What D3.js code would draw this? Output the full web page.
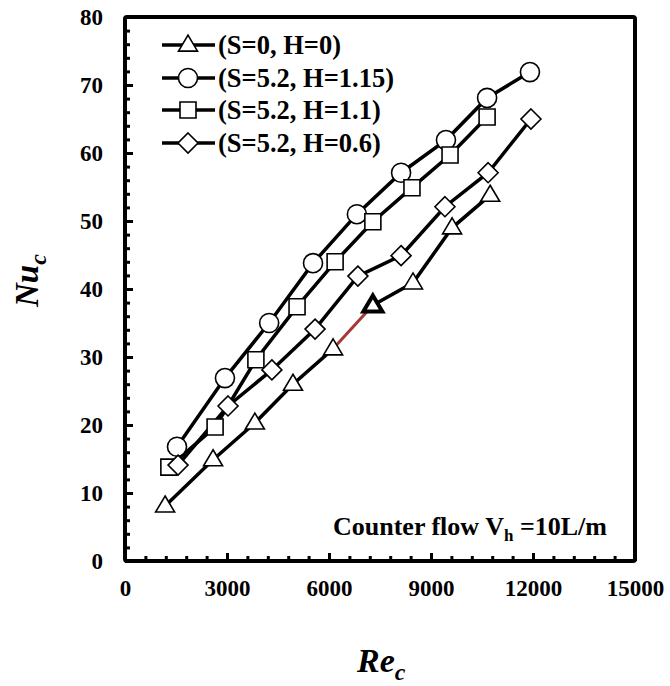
<!DOCTYPE html>
<html><head><meta charset="utf-8">
<script src="https://cdn.jsdelivr.net/npm/d3@7"></script>
<style>body{margin:0;background:#fff} text{font-family:"Liberation Serif","Times New Roman",serif;font-weight:bold}</style>
</head><body><svg id="c" width="670" height="686"></svg>
<script>
const xTicks=[0,3000,6000,9000,12000,15000];
const yTicks=[0,10,20,30,40,50,60,70,80];
const seriesNames=["(S=0, H=0)","(S=5.2, H=1.15)","(S=5.2, H=1.1)","(S=5.2, H=0.6)"];
const seriesShapes=["triangle","circle","square","diamond"];
const reS0H0=[1180,2590,3820,4940,6120,7290,8470,9620,10740];
const nuS0H0=[8.1,14.9,20.3,26.0,31.2,37.6,40.9,49.0,53.8];
const reH115=[1530,2940,4240,5530,6820,8120,9440,10650,11910];
const nuH115=[16.8,26.9,35.0,43.8,51.0,57.1,61.9,68.1,71.9];
const reH11=[1290,2650,3850,5060,6180,7290,8440,9560,10650];
const nuH11=[13.8,19.7,29.6,37.4,44.0,49.9,54.9,59.7,65.3];
const reH06=[1560,3030,4320,5590,6850,8120,9410,10680,11940];
const nuH06=[14.1,22.8,28.1,34.1,41.9,44.9,52.1,57.1,65.0];
const highlightIndex=5; // highlighted point in S=0,H=0 series (segment before it drawn in red)

const svg=d3.select("#c");
const x=d3.scaleLinear().domain([0,15000]).range([125,635]);
const y=d3.scaleLinear().domain([0,80]).range([561,17]);

// minor ticks
const xMinor=d3.range(0,15001,600).filter(v=>v%3000!==0);
const yMinor=d3.range(0,81,2).filter(v=>v%10!==0);
svg.append("g").attr("transform","translate(0,561)")
  .call(d3.axisBottom(x).tickValues(xMinor).tickSize(-5).tickFormat(""))
  .call(g=>{g.select(".domain").remove();g.selectAll("line").attr("stroke","#000").attr("stroke-width",3);});
svg.append("g").attr("transform","translate(125,0)")
  .call(d3.axisLeft(y).tickValues(yMinor).tickSize(-5).tickFormat(""))
  .call(g=>{g.select(".domain").remove();g.selectAll("line").attr("stroke","#000").attr("stroke-width",3);});
// major ticks
svg.append("g").attr("transform","translate(0,561)")
  .call(d3.axisBottom(x).tickValues(xTicks).tickSize(-8).tickPadding(19).tickFormat(d3.format("d")))
  .call(g=>{g.select(".domain").remove();g.selectAll("line").attr("stroke","#000").attr("stroke-width",3);
    g.selectAll("text").attr("font-size",23).attr("fill","#000").attr("font-family","Liberation Serif").attr("font-weight","bold");});
svg.append("g").attr("transform","translate(125,0)")
  .call(d3.axisLeft(y).tickValues(yTicks).tickSize(-8).tickPadding(22))
  .call(g=>{g.select(".domain").remove();g.selectAll("line").attr("stroke","#000").attr("stroke-width",3);
    g.selectAll("text").attr("font-size",23).attr("fill","#000").attr("font-family","Liberation Serif").attr("font-weight","bold");});

// frame
svg.append("rect").attr("x",x(0)).attr("y",y(80)).attr("width",x(15000)-x(0)).attr("height",y(0)-y(80))
  .attr("fill","none").attr("stroke","#000").attr("stroke-width",4).attr("rx",2);

function shapePath(s){
  if(s==="triangle"){const h=16,w=19;return `M0,${-h*0.62}L${w/2},${h*0.38}L${-w/2},${h*0.38}Z`;}
  if(s==="circle"){return d3.symbol(d3.symbolCircle,285)();}
  if(s==="square"){const a=8;return `M${-a},${-a}H${a}V${a}H${-a}Z`;}
  if(s==="diamond"){const a=10;return `M0,${-a}L${a},0L0,${a}L${-a},0Z`;}
}

const series=[
  {xs:reS0H0,ys:nuS0H0,shape:"triangle"},
  {xs:reH115,ys:nuH115,shape:"circle"},
  {xs:reH11,ys:nuH11,shape:"square"},
  {xs:reH06,ys:nuH06,shape:"diamond"}
];
const line=d3.line().x(d=>x(d[0])).y(d=>y(d[1]));
series.forEach((s,si)=>{
  const pts=s.xs.map((v,i)=>[v,s.ys[i]]);
  if(si===0){
    svg.append("path").attr("d",line(pts.slice(0,highlightIndex))).attr("fill","none").attr("stroke","#000").attr("stroke-width",3.5);
    svg.append("path").attr("d",line(pts.slice(highlightIndex-1,highlightIndex+1))).attr("fill","none").attr("stroke","#a33a36").attr("stroke-width",3);
    svg.append("path").attr("d",line(pts.slice(highlightIndex))).attr("fill","none").attr("stroke","#000").attr("stroke-width",3.5);
  } else {
    svg.append("path").attr("d",line(pts)).attr("fill","none").attr("stroke","#000").attr("stroke-width",3.5);
  }
});
series.forEach((s,si)=>{
  const pts=s.xs.map((v,i)=>[v,s.ys[i],i]);
  svg.append("g").selectAll("path").data(pts).join("path")
    .attr("d",shapePath(s.shape))
    .attr("transform",d=>`translate(${x(d[0])},${y(d[1])})`)
    .attr("fill","#fff").attr("stroke","#000")
    .attr("stroke-width",d=>(si===0&&d[2]===highlightIndex)?4:1.6);
});

// legend
const legY=[45,78,110,143];
seriesNames.forEach((n,i)=>{
  const g=svg.append("g").attr("transform",`translate(0,${legY[i]})`);
  g.append("line").attr("x1",162).attr("x2",215).attr("stroke","#000").attr("stroke-width",3.5);
  g.append("path").attr("d",shapePath(seriesShapes[i])).attr("transform","translate(188,0)")
    .attr("fill","#fff").attr("stroke","#000").attr("stroke-width",1.6);
  g.append("text").attr("x",218).attr("y",9).attr("font-size",26.5).text(n);
});

// annotation
const ann=svg.append("text").attr("x",333).attr("y",535).attr("font-size",26);
ann.append("tspan").text("Counter flow V");
ann.append("tspan").attr("font-size",17).attr("dy",6).text("h");
ann.append("tspan").attr("dy",-6).text(" =10L/m");

// axis titles
const xt=svg.append("text").attr("x",357).attr("y",672).attr("font-size",34).attr("font-style","italic");
xt.append("tspan").text("Re");
xt.append("tspan").attr("font-size",24).attr("dy",8).text("c");
const yt=svg.append("text").attr("transform","translate(38,307) rotate(-90)").attr("font-size",33).attr("font-style","italic");
yt.append("tspan").text("Nu");
yt.append("tspan").attr("font-size",24).attr("dy",8).text("c");
</script></body></html>
